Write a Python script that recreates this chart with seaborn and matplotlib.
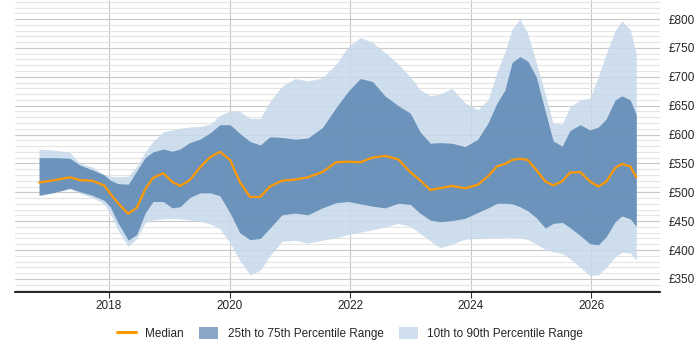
import numpy as np
import pandas as pd
import matplotlib
matplotlib.use("Agg")
import matplotlib.pyplot as plt
from matplotlib.patches import Patch
from matplotlib.lines import Line2D
from matplotlib.ticker import MultipleLocator, FuncFormatter
import seaborn as sns

# decimal year of each sample
years = [2016.84, 2017.10, 2017.35, 2017.52, 2017.72, 2017.92, 2018.02, 2018.15, 2018.32, 2018.46,
         2018.60, 2018.73, 2018.90, 2019.05, 2019.18, 2019.34, 2019.51, 2019.68, 2019.84, 2020.01,
         2020.17, 2020.34, 2020.51, 2020.67, 2020.87, 2021.09, 2021.30, 2021.54, 2021.77, 2021.97,
         2022.17, 2022.37, 2022.58, 2022.80, 2023.00, 2023.16, 2023.33, 2023.49, 2023.69, 2023.91,
         2024.12, 2024.29, 2024.44, 2024.57, 2024.69, 2024.82, 2024.95, 2025.09, 2025.24, 2025.37,
         2025.52, 2025.65, 2025.82, 2025.98, 2026.12, 2026.25, 2026.40, 2026.51, 2026.65, 2026.75]

median = [517, 521, 526, 521, 520, 512, 498, 481, 463, 473,
          505, 525, 533, 518, 511, 521, 543, 561, 570, 556,
          518, 492, 492, 510, 520, 522, 526, 535, 552, 553,
          552, 560, 563, 557, 535, 521, 504, 507, 511, 507,
          513, 528, 545, 549, 556, 558, 556, 539, 519, 512,
          519, 534, 535, 519, 510, 518, 542, 549, 545, 526]

p75 = [560, 560, 559, 547, 539, 530, 521, 515, 514, 537,
       560, 570, 575, 571, 575, 586, 592, 603, 617, 617,
       602, 588, 582, 596, 595, 592, 594, 612, 647, 675,
       697, 692, 667, 650, 637, 605, 585, 586, 585, 579,
       592, 620, 655, 677, 725, 735, 727, 700, 640, 589,
       580, 607, 617, 608, 613, 627, 660, 667, 660, 634]

p90 = [575, 573, 569, 550, 544, 531, 528, 527, 528, 545,
       570, 588, 605, 608, 611, 613, 614, 618, 633, 641,
       640, 628, 628, 657, 684, 697, 693, 698, 722, 752,
       768, 760, 742, 722, 700, 678, 667, 670, 680, 655,
       643, 660, 708, 743, 783, 800, 775, 725, 670, 620,
       618, 648, 660, 663, 700, 740, 780, 797, 782, 741]

p25 = [495, 500, 507, 501, 495, 486, 475, 447, 417, 427,
       464, 484, 484, 473, 475, 491, 499, 499, 494, 464,
       430, 418, 420, 438, 461, 464, 461, 473, 482, 484,
       480, 476, 473, 481, 479, 464, 452, 449, 451, 455,
       465, 473, 481, 481, 480, 475, 468, 456, 438, 446,
       448, 439, 425, 411, 409, 423, 449, 459, 454, 441]

p10 = [494, 499, 506, 498, 491, 480, 464, 434, 406, 420,
       447, 452, 454, 455, 454, 452, 450, 445, 437, 412,
       382, 357, 365, 390, 415, 417, 412, 417, 421, 427,
       431, 435, 440, 446, 441, 429, 416, 404, 410, 419,
       420, 421, 421, 422, 422, 421, 418, 410, 401, 397,
       394, 385, 370, 356, 357, 370, 388, 396, 395, 383]

df = pd.DataFrame({"year": years, "median": median, "p10": p10,
                   "p25": p25, "p75": p75, "p90": p90})

orange = "#ff9900"
dark = "#5b86b2"
light = "#c6d9eb"

sns.set_style("white")
plt.rcParams["font.family"] = ["Liberation Sans", "DejaVu Sans"]

fig = plt.figure(figsize=(7, 3.5), dpi=100)
ax = fig.add_axes([0.0214, 0.166, 0.922, 0.834])

# bands slightly see-through so the grid shows faintly like the original
ax.fill_between(df["year"], df["p10"], df["p90"], color=light, alpha=0.85, lw=0, zorder=1)
ax.fill_between(df["year"], df["p25"], df["p75"], color=dark, alpha=0.85, lw=0, zorder=1.5)
sns.lineplot(data=df, x="year", y="median", color=orange, lw=1.6, ax=ax, zorder=3)

ax.set_xlim(2016.44, 2027.15)
ax.set_ylim(327.5, 833)

ax.yaxis.set_major_locator(MultipleLocator(50))
ax.yaxis.set_minor_locator(MultipleLocator(10))
ax.yaxis.set_major_formatter(FuncFormatter(lambda v, p: f"£{v:.0f}"))
ax.yaxis.tick_right()
ax.set_xticks([2018, 2020, 2022, 2024, 2026])
ax.set_xticklabels(["2018", "2020", "2022", "2024", "2026"])

ax.set_axisbelow(True)
ax.grid(which="major", axis="y", color="#c8c8c8", lw=0.8, zorder=0.5)
ax.grid(which="minor", axis="y", color="#e4e4e4", lw=0.8, zorder=0.5)
ax.grid(which="major", axis="x", color="#c8c8c8", lw=0.8, zorder=0.5)

for s in ["top", "left", "right"]:
    ax.spines[s].set_visible(False)
ax.spines["bottom"].set_color("black")
ax.spines["bottom"].set_linewidth(1.2)
ax.spines["bottom"].set_zorder(4)

ax.tick_params(axis="x", which="major", length=4, width=0.8, color="#333333",
               labelsize=8.5, pad=2, bottom=True)
ax.tick_params(axis="y", which="both", length=0, labelsize=8.5, pad=6)
ax.set_xlabel("")
ax.set_ylabel("")

handles = [Line2D([0], [0], color=orange, lw=2.2),
           Patch(facecolor="#88a6c6", edgecolor="none"),
           Patch(facecolor="#cfdfee", edgecolor="none")]
labels = ["Median", "25th to 75th Percentile Range", "10th to 90th Percentile Range"]
fig.legend(handles, labels, loc="center", bbox_to_anchor=(0.5, 0.047), ncol=3,
           frameon=False, fontsize=8.5, handlelength=1.6, handleheight=1.1,
           columnspacing=1.3, handletextpad=0.8)

fig.savefig("out.png", dpi=100)
